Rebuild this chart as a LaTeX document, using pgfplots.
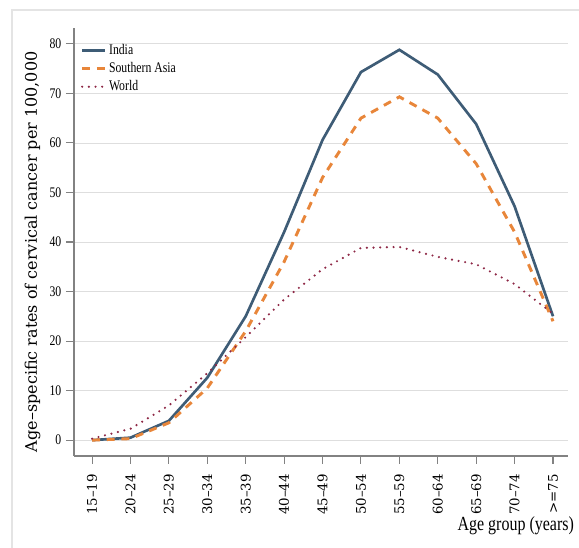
\documentclass[border=0pt]{standalone}
\usepackage{pgfplots}
\pgfplotsset{compat=1.18}
\usepackage{fontspec}
\setmainfont{Liberation Serif}
\newfontfamily\condfont[FakeStretch=0.8]{Liberation Serif}
\newfontfamily\wideserif{DejaVu Serif}
\definecolor{india}{RGB}{62,92,118}
\definecolor{sasia}{RGB}{232,134,58}
\definecolor{world}{RGB}{142,40,70}
\definecolor{gridc}{RGB}{222,222,222}
\definecolor{axisc}{RGB}{130,130,130}
\definecolor{framec}{RGB}{228,228,228}

\begin{document}
\begin{tikzpicture}
% page size: 579x548 px at 0.75pt/px
\useasboundingbox (-55.5pt,-69pt) rectangle (378.75pt,342pt);
\draw[framec, line width=1.5pt] (-46.5pt,-70pt) -- (-46.5pt,334.5pt) -- (380pt,334.5pt);
\begin{axis}[
    at={(0,0)}, anchor=south west,
    scale only axis,
    width=370.5pt, height=321pt,
    xmin=-0.47, xmax=12.39,
    ymin=-3.2, ymax=83.2,
    axis lines*=left,
    axis line style={axisc, line width=0.8pt},
    tick align=outside,
    major tick length=6pt,
    tick style={axisc, line width=0.8pt},
    xtick={0,...,12},
    xticklabels={15–19,20–24,25–29,30–34,35–39,40–44,45–49,50–54,55–59,60–64,65–69,70–74,>=75},
    x tick label style={rotate=90, anchor=east, font=\fontsize{10}{10}\selectfont\wideserif, inner sep=7.5pt},
    ytick={0,10,...,80},
    y tick label style={font=\fontsize{11}{11}\selectfont\condfont},
    /pgf/number format/assume math mode=true,
    ymajorgrids,
    grid style={gridc, line width=0.6pt},
    ylabel={Age–specific rates of cervical cancer per 100,000},
    ylabel style={at={(axis description cs:0,0.477)}, anchor=center, yshift=31pt, font=\fontsize{12}{12}\selectfont\wideserif},
    xlabel={Age group (years)},
    xlabel style={at={(axis description cs:1,0)}, anchor=east, xshift=8pt, yshift=-52pt, font=\fontsize{15}{15}\selectfont\condfont},
    legend style={draw=none, fill=none, at={(axis description cs:0.005,0.975)}, anchor=north west,
        font=\fontsize{11}{11}\selectfont\condfont, row sep=0.5pt},
    legend cell align=left,
]
\addplot[india, line width=2pt, sharp plot] coordinates {
    (0,0) (1,0.5) (2,3.9) (3,12.6) (4,25) (5,42) (6,60.6) (7,74.3) (8,78.8) (9,73.8) (10,63.8) (11,47.2) (12,25)
};
\addlegendentry{India}
\addplot[sasia, line width=2.2pt, dash pattern=on 6pt off 5pt, sharp plot] coordinates {
    (0,0) (1,0.3) (2,3.5) (3,10.5) (4,22) (5,36) (6,53) (7,65) (8,69.3) (9,65) (10,55.8) (11,42) (12,24)
};
\addlegendentry{Southern Asia}
\addplot[world, line width=1.8pt, line cap=round, dash pattern=on 0pt off 5pt, sharp plot] coordinates {
    (0,0.3) (1,2.3) (2,7) (3,13.5) (4,20.8) (5,28.4) (6,34.5) (7,38.8) (8,39) (9,37) (10,35.5) (11,31.5) (12,25.5)
};
\addlegendentry{World}
\end{axis}
\end{tikzpicture}
\end{document}
